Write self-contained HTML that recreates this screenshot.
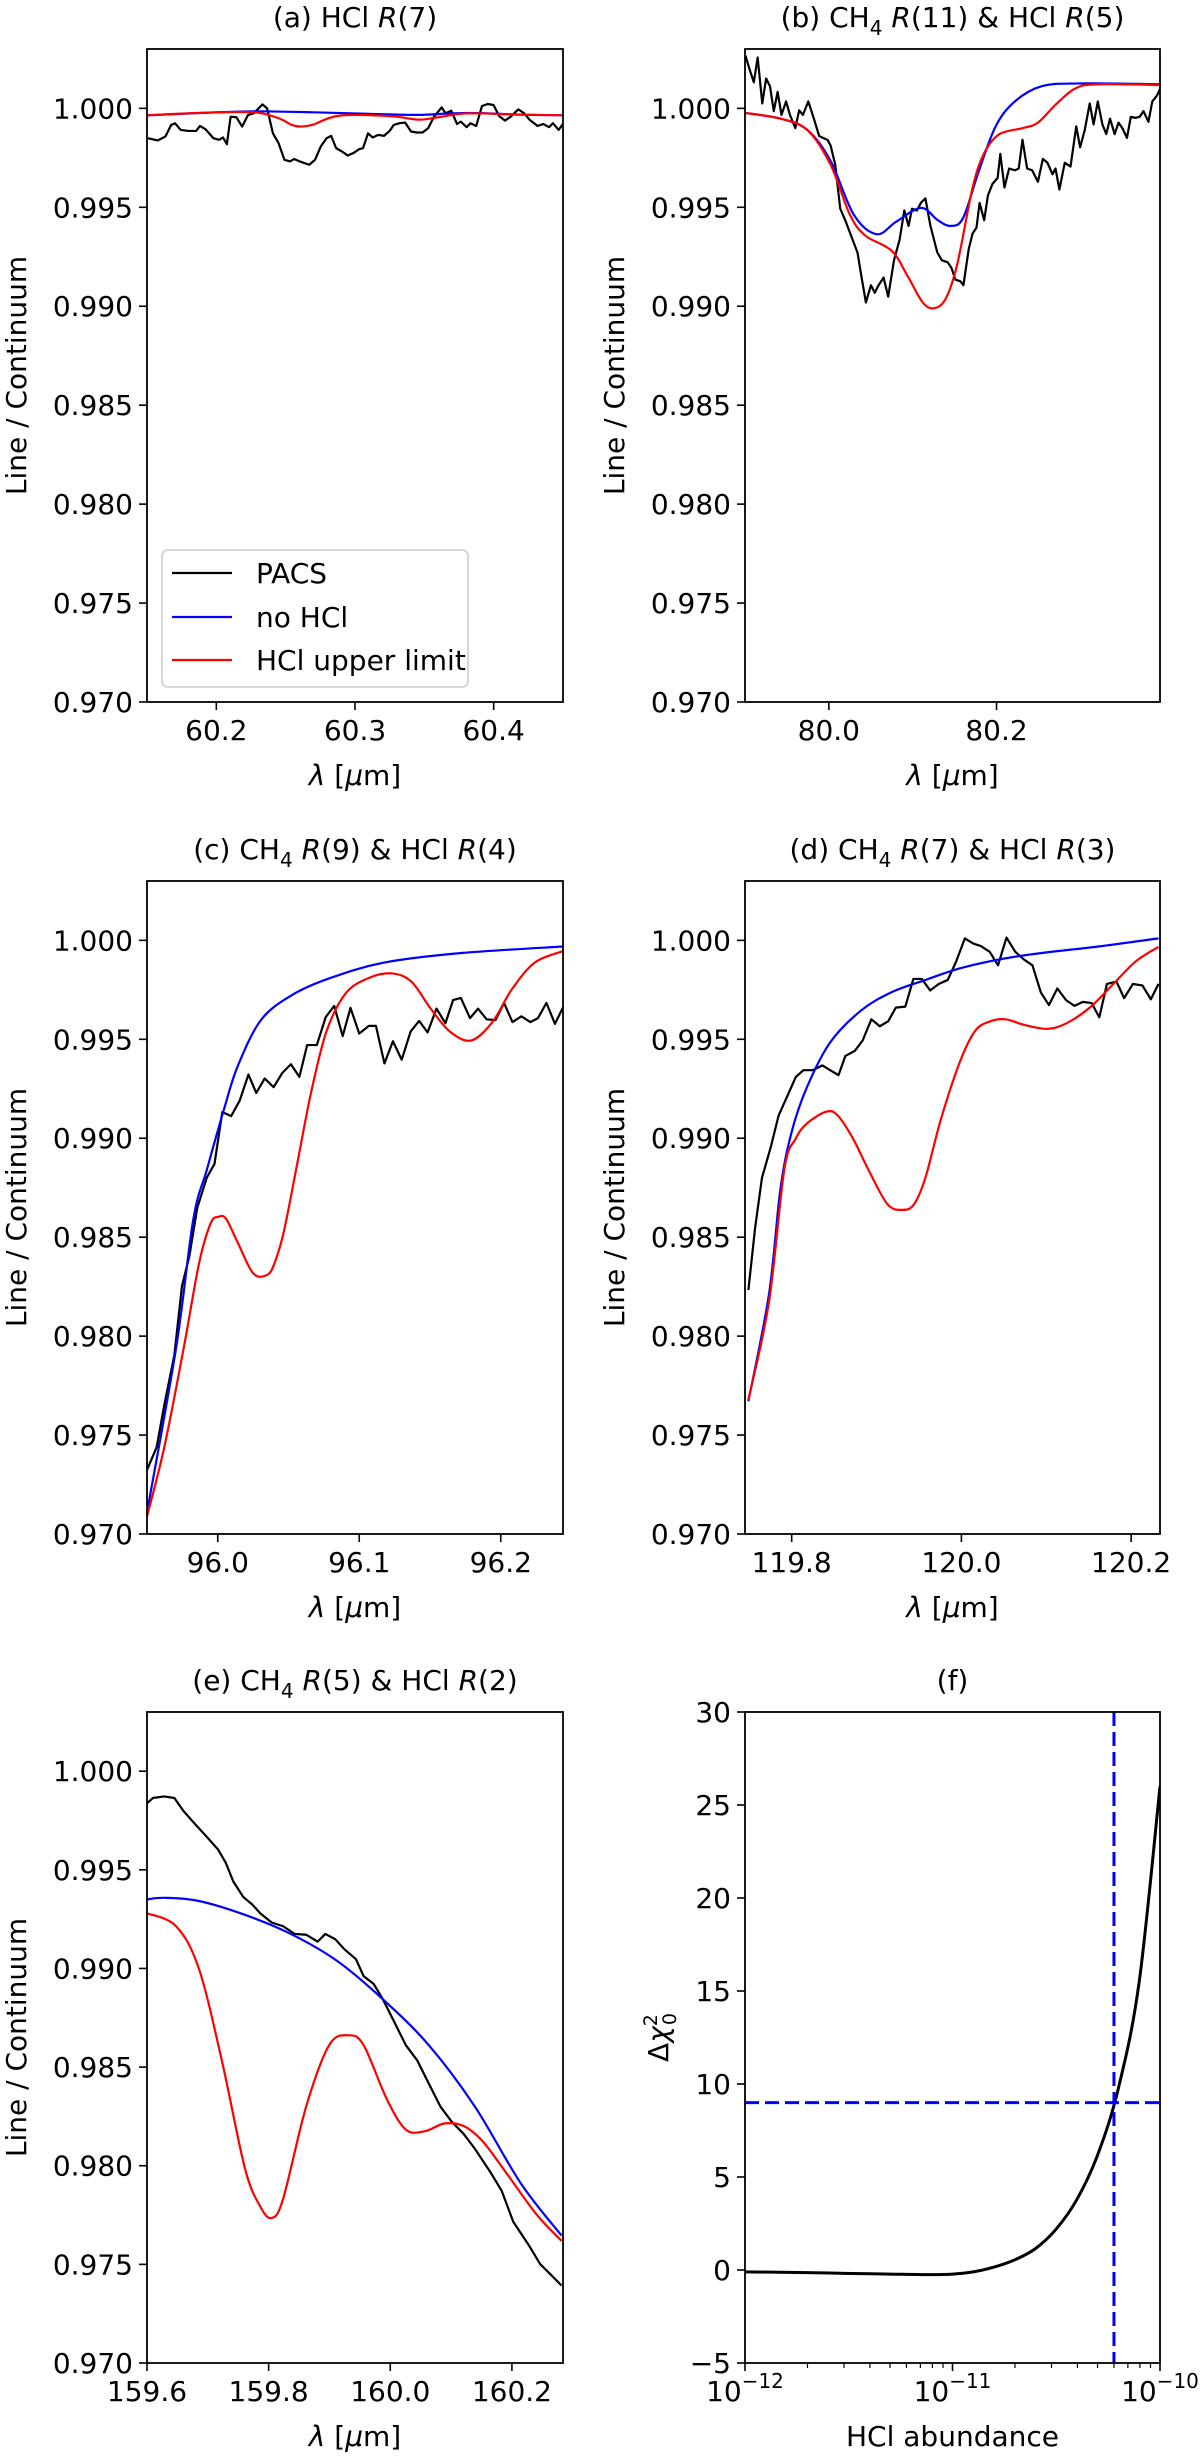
<!DOCTYPE html>
<html><head><meta charset="utf-8">
<style>
html,body{margin:0;padding:0;background:#fff;}
svg text{font-family:"DejaVu Sans","Liberation Sans",sans-serif;fill:#000;}
</style></head>
<body>
<svg id="fig" width="1200" height="2453" viewBox="0 0 1200 2453" xmlns="http://www.w3.org/2000/svg"></svg>
<script>
// ---------- data ----------
const yTicks = [0.970,0.975,0.980,0.985,0.990,0.995,1.000];
const yTickLabels = ["0.970","0.975","0.980","0.985","0.990","0.995","1.000"];

const aTicks=[60.2,60.3,60.4]; const aTickLabels=["60.2","60.3","60.4"];
const aPacsX=[60.1508,60.1577,60.1633,60.1674,60.1702,60.1743,60.1799,60.1854,60.1882,60.1923,60.1979,60.2020,60.2048,60.2076,60.2103,60.2145,60.2186,60.2228,60.2269,60.2333,60.2366,60.2408,60.2449,60.2491,60.2532,60.2560,60.2601,60.2670,60.2712,60.2753,60.2795,60.2828,60.2864,60.2906,60.2947,60.2989,60.3030,60.3058,60.3094,60.3127,60.3168,60.3210,60.3252,60.3279,60.3321,60.3362,60.3404,60.3445,60.3487,60.3528,60.3570,60.3625,60.3653,60.3694,60.3736,60.3763,60.3805,60.3833,60.3874,60.3916,60.3957,60.3999,60.4040,60.4082,60.4123,60.4178,60.4220,60.4261,60.4317,60.4358,60.4400,60.4427,60.4469,60.4499];
const aPacsY=[.99849,.99838,.99858,.99916,.99925,.99891,.99886,.99886,.99911,.99894,.99849,.99841,.99853,.99819,.99958,.99955,.99908,.99966,.99975,1.0002,1.0000,.99874,.99824,.9974,.99732,.99744,.99732,.99715,.9974,.99807,.99849,.99861,.99799,.99782,.99762,.99774,.99794,.99799,.99874,.99853,.99866,.99861,.99888,.99916,.99925,.99928,.99883,.99878,.99878,.999,.99958,1.00005,.99975,.99988,.99921,.99933,.99905,.99925,.99911,1.00012,1.00022,1.00017,.99961,.99938,.99958,.99995,.99975,.99941,.99911,.99921,.99905,.99925,.99891,.99921];
const aNoX=[60.15,60.2,60.23,60.27,60.31,60.345,60.37,60.39,60.42,60.45];
const aNoY=[.99965,.99980,.99985,.99980,.99972,.99967,.99975,.99976,.99968,.99965];
const aUpX=[60.15,60.18,60.21,60.23,60.245,60.255,60.2615,60.27,60.28,60.29,60.31,60.33,60.346,60.36,60.375,60.39,60.41,60.45];
const aUpY=[.99965,.99975,.99981,.99978,.99950,.99915,.99908,.99918,.99948,.99964,.99966,.99958,.99943,.99955,.99972,.99975,.99970,.99965];

const bTicks=[80.0,80.2]; const bTickLabels=["80.0","80.2"];
const bPacsX=[79.9005,79.906,79.9105,79.9151,79.9206,79.9252,79.9298,79.9343,79.9389,79.9435,79.949,79.9536,79.96,79.9646,79.9691,79.9755,79.9815,79.9884,79.993,79.9984,80.0021,80.0076,80.0136,80.0204,80.0273,80.0342,80.0387,80.0442,80.0502,80.0548,80.0593,80.0653,80.0708,80.0777,80.0845,80.09,80.0951,80.0992,80.1051,80.1097,80.1152,80.1212,80.1294,80.1349,80.1418,80.1463,80.1509,80.1569,80.1605,80.1669,80.1715,80.1761,80.1798,80.1853,80.1898,80.1953,80.2013,80.2045,80.2095,80.215,80.2219,80.2265,80.231,80.2365,80.2425,80.2494,80.2553,80.2608,80.2668,80.2704,80.275,80.2814,80.2883,80.2951,80.2997,80.3052,80.3112,80.3158,80.3208,80.3263,80.3309,80.3354,80.3409,80.3455,80.3501,80.3556,80.3602,80.3661,80.3707,80.3753,80.3812,80.3858,80.3913,80.3959];
const bPacsY=[1.00267,1.0019,1.00132,1.00257,1.00025,1.00151,1.00112,.99986,1.00083,.99967,1.00035,.99967,.9990,.9999,.99967,1.00035,.99957,.99861,.99851,.99841,.99812,.99716,.99493,.99426,.99348,.99271,.99155,.99019,.99106,.99068,.99106,.99145,.99048,.99232,.99338,.99484,.99406,.99493,.99484,.99522,.99545,.99406,.99271,.99232,.99222,.99193,.99135,.99126,.99106,.9929,.99368,.99397,.99522,.99435,.99561,.99619,.99648,.9977,.996,.99696,.99687,.99696,.99841,.99696,.99687,.99629,.99745,.99725,.99667,.99696,.9959,.99725,.99706,.99909,.99803,.9989,1.00025,.99919,1.00035,.99919,.9987,.99948,.9987,.99928,.999,.99851,.99957,.99952,.99957,.99986,.99932,1.00035,1.00064,1.00106];
const bNoX=[79.9,79.9426,79.9746,80.002,80.0296,80.057,80.08,80.1097,80.13,80.145,80.16,80.1784,80.199,80.2219,80.254,80.30,80.396];
const bNoY=[.99977,.99948,.9989,.99735,.99464,.99364,.99426,.99497,.99435,.99406,.99445,.99677,.99909,1.00035,1.00112,1.00126,1.00122];
const bUpX=[79.9,79.9426,79.9746,80.002,80.025,80.0433,80.075,80.0937,80.112,80.1257,80.1395,80.1532,80.1715,80.1853,80.2036,80.231,80.2494,80.272,80.2951,80.3226,80.396];
const bUpY=[.99977,.99948,.9989,.99716,.99464,.99358,.9928,.99155,.99019,.9899,.99039,.99213,.996,.99774,.9987,.999,.99928,1.00025,1.00103,1.00122,1.00118];

const cTicks=[96.0,96.1,96.2]; const cTickLabels=["96.0","96.1","96.2"];
const cPacsX=[95.9487,95.9568,95.9622,95.9693,95.9747,95.98,95.9855,95.9923,95.9977,96.0032,96.0095,96.0155,96.0217,96.0272,96.0332,96.0395,96.0455,96.0517,96.0577,96.0632,96.07,96.0763,96.0823,96.0883,96.0938,96.1,96.1068,96.1118,96.1178,96.1238,96.13,96.1363,96.1423,96.1483,96.1546,96.1609,96.1663,96.1718,96.1783,96.184,96.19,96.1963,96.2023,96.2083,96.2146,96.2209,96.2263,96.2323,96.2383,96.2443];
const cPacsY=[.97302,.97438,.97651,.97903,.98252,.98407,.98647,.98802,.9887,.99132,.99112,.9919,.99322,.99229,.99302,.99258,.99329,.99374,.9931,.99471,.99471,.99612,.99669,.99516,.99659,.99529,.99568,.99568,.99378,.9949,.99397,.99539,.99593,.99535,.99655,.99581,.99698,.99709,.99607,.99655,.99601,.99597,.99684,.99587,.99616,.99587,.99607,.99684,.99578,.99665];
const cNoX=[95.95,95.9706,95.9827,95.9923,96.0046,96.0141,96.0305,96.0523,96.0796,96.1178,96.1723,96.2443];
const cNoY=[.97109,.97942,.98589,.98841,.99151,.99364,.99597,.99723,.9981,.99888,.99936,.99969];
const cUpX=[95.95,95.9622,95.976,95.9868,95.995,96.0005,96.0059,96.0141,96.025,96.0346,96.04,96.0468,96.0564,96.0659,96.0768,96.0905,96.1068,96.1232,96.1369,96.1505,96.1641,96.1791,96.1941,96.2078,96.2241,96.2443];
const cUpY=[.97089,.97438,.97942,.98368,.9857,.98603,.98593,.98473,.98318,.98308,.98366,.98531,.9888,.99229,.99539,.99733,.9981,.99833,.99791,.99655,.99539,.99494,.99587,.99752,.99888,.99946];

const dTicks=[119.8,120.0,120.2]; const dTickLabels=["119.8","120.0","120.2"];
const dPacsX=[119.749,119.757,119.765,119.7756,119.7846,119.7958,119.8048,119.8138,119.825,119.8363,119.8453,119.8552,119.8633,119.8745,119.8836,119.8939,119.9038,119.9137,119.9227,119.9339,119.9434,119.9533,119.9632,119.9735,119.9839,119.9938,120.0041,120.014,120.023,120.0333,120.0432,120.0531,120.0635,120.0738,120.0837,120.0936,120.1031,120.113,120.1233,120.1332,120.1431,120.1535,120.1625,120.1715,120.1827,120.1917,120.2021,120.2133,120.2232,120.2322];
const dPacsY=[.98233,.9855,.9880,.98959,.99115,.99222,.99309,.99344,.99344,.99368,.99344,.99319,.99416,.99442,.99494,.99601,.99566,.99591,.9966,.99665,.99805,.99805,.99747,.9978,.998,.99893,1.0001,.99984,.99971,.99942,.99874,1.00014,.99942,.99903,.99874,.99737,.99673,.99757,.99698,.99669,.99689,.99683,.99611,.9978,.99792,.99708,.9978,.99772,.99702,.9978];
const dNoX=[119.749,119.7733,119.7868,119.8003,119.8183,119.8453,119.8813,119.9173,119.9578,120.0028,120.0702,120.1652,120.2322];
const dNoY=[.97671,.98213,.98745,.99037,.99261,.99484,.99644,.99737,.998,.99864,.99922,.99971,1.0001];
const dUpX=[119.749,119.7733,119.7913,119.8048,119.8183,119.8408,119.8543,119.8723,119.8903,119.9128,119.9308,119.9443,119.9578,119.9758,119.9983,120.0163,120.0342,120.0522,120.0747,120.1017,120.1242,120.1512,120.1782,120.2052,120.2322];
const dUpY=[.97678,.98174,.98842,.98998,.99076,.99134,.99115,.98998,.98842,.98667,.98638,.98667,.98804,.99095,.99387,.99543,.99591,.99601,.99572,.99553,.99582,.9966,.99776,.99893,.99967];

const eTicks=[159.6,159.8,160.0,160.2]; const eTickLabels=["159.6","159.8","160.0","160.2"];
const ePacsX=[159.6,159.6096,159.6285,159.645,159.66,159.679,159.6978,159.7168,159.7293,159.742,159.7584,159.7735,159.7861,159.805,159.8239,159.8428,159.8617,159.8806,159.8932,159.9096,159.9247,159.9436,159.9562,159.9726,159.9878,160.0067,160.0256,160.0445,160.0634,160.0824,160.1013,160.1202,160.1391,160.1643,160.1833,160.2022,160.2274,160.2463,160.2652,160.2816];
const ePacsY=[.99837,.99864,.99872,.99864,.99798,.99732,.99669,.99603,.99537,.9944,.99362,.99323,.9928,.99233,.99214,.99175,.99171,.99136,.99175,.99148,.99097,.99047,.98961,.98922,.98844,.98728,.98611,.98533,.98416,.983,.98222,.98163,.98086,.97969,.97872,.97716,.97599,.97502,.97444,.97393];
const eNoX=[159.6,159.6285,159.6852,159.7609,159.8365,159.9122,159.9878,160.0634,160.1391,160.2148,160.2816];
const eNoY=[.9935,.99358,.99342,.99272,.99175,.99039,.98844,.98611,.983,.9791,.97646];
const eUpX=[159.6,159.6478,159.6852,159.7231,159.7609,159.7861,159.805,159.8239,159.8617,159.8995,159.9311,159.9562,159.9941,160.0256,160.0571,160.0887,160.1202,160.1517,160.1895,160.24,160.2816];
const eUpY=[.9928,.99214,.99,.98533,.97988,.97794,.97735,.97833,.983,.98611,.98661,.98611,.98339,.98183,.98175,.98214,.98202,.98125,.97969,.97755,.97619];

const fAbund=[1e-12,2e-12,3e-12,5e-12,8e-12,1e-11,1.26e-11,1.58e-11,2e-11,2.51e-11,3.16e-11,3.98e-11,5.01e-11,6.31e-11,7.94e-11,1e-10];
const fChi=[-0.1,-0.14,-0.18,-0.22,-0.25,-0.22,-0.1,0.15,0.55,1.15,2.2,3.8,6.2,9.8,15.5,26];
const fYTicks=[-5,0,5,10,15,20,25,30];
const fYTickLabels=["\u22125","0","5","10","15","20","25","30"];
const fXTicks=[1e-12,1e-11,1e-10];
const fXTickExp=["\u221212","\u221211","\u221210"];
const fLimitChi=9;
const fLimitAbund=6.0e-11;

// ---------- drawing ----------
const NS="http://www.w3.org/2000/svg";
const svg=document.getElementById('fig');
function mk(tag,attrs,parent){const e=document.createElementNS(NS,tag);for(const k in attrs)e.setAttribute(k,attrs[k]);(parent||svg).appendChild(e);return e;}
function smoothPath(pts){
  if(pts.length<2)return '';
  let d='M'+pts[0][0].toFixed(2)+','+pts[0][1].toFixed(2);
  for(let i=0;i<pts.length-1;i++){
    const p0=pts[i-1]||pts[i],p1=pts[i],p2=pts[i+1],p3=pts[i+2]||p2;
    const c1x=p1[0]+(p2[0]-p0[0])/6,c1y=p1[1]+(p2[1]-p0[1])/6;
    const c2x=p2[0]-(p3[0]-p1[0])/6,c2y=p2[1]-(p3[1]-p1[1])/6;
    d+=' C'+c1x.toFixed(2)+','+c1y.toFixed(2)+' '+c2x.toFixed(2)+','+c2y.toFixed(2)+' '+p2[0].toFixed(2)+','+p2[1].toFixed(2);
  }
  return d;
}
function linePath(pts){return pts.map((p,i)=>(i?'L':'M')+p[0].toFixed(2)+','+p[1].toFixed(2)).join(' ');}

const FS=28;
let clipId=0;
function panel(o){
  const g=mk('g',{});
  
  
  const L=o.L,R=o.R,T=o.T,B=o.B;
  const xs=v=>o.xlog?L+(Math.log10(v)-Math.log10(o.x0))/(Math.log10(o.x1)-Math.log10(o.x0))*(R-L):L+(v-o.x0)/(o.x1-o.x0)*(R-L);
  const ys=v=>B-(v-o.y0)/(o.y1-o.y0)*(B-T);
  const cid='clip'+(clipId++);
  const cp=mk('clipPath',{id:cid},g);
  mk('rect',{x:L,y:T,width:R-L,height:B-T},cp);
  const plot=mk('g',{'clip-path':'url(#'+cid+')'},g);
  
  
  (o.series||[]).forEach(s=>{
    const pts=s.x.map((v,i)=>[xs(v),ys(s.y[i])]);
    const p=mk('path',{d:s.smooth?smoothPath(pts):linePath(pts),fill:'none',stroke:s.color,'stroke-width':s.w||2.2,'stroke-linejoin':'round','stroke-dasharray':s.dash||'none'},plot);
    
    
  });
  if(o.extra)o.extra(plot,xs,ys);
  const fr=mk('rect',{x:L,y:T,width:R-L,height:B-T,fill:'none',stroke:'#000','stroke-width':1.8},g);
  
  
  o.yt.forEach((v,i)=>{
    const y=ys(v);
    const t=mk('line',{x1:L-8,x2:L,y1:y,y2:y,stroke:'#000','stroke-width':1.6},g);
    
    
    const tx=mk('text',{x:L-14,y:y+10,'text-anchor':'end','font-size':FS},g);
    tx.textContent=o.ytl[i];
    
    
  });
  o.xt.forEach((v,i)=>{
    const x=xs(v);
    const t=mk('line',{x1:x,x2:x,y1:B,y2:B+8,stroke:'#000','stroke-width':1.6},g);
    
    
    const tx=mk('text',{x:x,y:B+38,'text-anchor':'middle','font-size':FS},g);
    
    
    if(o.xexp){tx.textContent='10';const sp=mk('tspan',{'font-size':20,dy:-13},tx);sp.textContent=o.xexp[i];}
    else tx.textContent=o.xtl[i];
  });
  if(o.minor)o.minor.forEach(v=>{
    const x=xs(v);
    const t=mk('line',{x1:x,x2:x,y1:B,y2:B+5,stroke:'#000','stroke-width':1.2},g);
    
    
  });
  const ti=mk('text',{x:(L+R)/2,y:T-22,'text-anchor':'middle','font-size':FS},g);
  ti.innerHTML=o.title;
  
  
  const xl=mk('text',{x:(L+R)/2,y:B+83,'text-anchor':'middle','font-size':FS},g);
  xl.innerHTML=o.xlabel;
  
  
  const yl=mk('text',{x:0,y:0,'text-anchor':'middle','font-size':FS,transform:'translate('+o.ylx+','+((T+B)/2)+') rotate(-90)'},g);
  yl.innerHTML=o.ylabel;
  
  
  return g;
}
const LAM='<tspan font-style="italic">λ</tspan> [<tspan font-style="italic">μ</tspan>m]';
const YL='Line / Continuum';
function spec(x,y,c,name,smooth){return {x:x,y:y,color:c,name:name,smooth:smooth,w:2.2};}
const C1={L:147,R:563},C2={L:745,R:1160};
const R1={T:49,B:702},R2={T:881,B:1534},R3={T:1712,B:2363};
const sub='<tspan font-size="20" dy="8">4</tspan><tspan dy="-8"> </tspan>';

panel(Object.assign({name:'panel-a',x0:60.15,x1:60.45,y0:0.970,y1:1.003,xt:aTicks,xtl:aTickLabels,yt:yTicks,ytl:yTickLabels,
 title:'(a) HCl <tspan font-style="italic">R</tspan>(7)',xlabel:LAM,ylabel:YL,ylx:26,
 series:[spec(aPacsX,aPacsY,'#000','pacs-line',false),spec(aNoX,aNoY,'#0000ff','no-hcl-line',true),spec(aUpX,aUpY,'#ff0000','hcl-upper-limit-line',true)]},C1,R1));
panel(Object.assign({name:'panel-b',x0:79.9,x1:80.395,y0:0.970,y1:1.003,xt:bTicks,xtl:bTickLabels,yt:yTicks,ytl:yTickLabels,
 title:'(b) CH'+sub+'<tspan font-style="italic">R</tspan>(11) &amp; HCl <tspan font-style="italic">R</tspan>(5)',xlabel:LAM,ylabel:YL,ylx:624,
 series:[spec(bPacsX,bPacsY,'#000','pacs-line',false),spec(bNoX,bNoY,'#0000ff','no-hcl-line',true),spec(bUpX,bUpY,'#ff0000','hcl-upper-limit-line',true)]},C2,R1));
panel(Object.assign({name:'panel-c',x0:95.95,x1:96.244,y0:0.970,y1:1.003,xt:cTicks,xtl:cTickLabels,yt:yTicks,ytl:yTickLabels,
 title:'(c) CH'+sub+'<tspan font-style="italic">R</tspan>(9) &amp; HCl <tspan font-style="italic">R</tspan>(4)',xlabel:LAM,ylabel:YL,ylx:26,
 series:[spec(cPacsX,cPacsY,'#000','pacs-line',false),spec(cNoX,cNoY,'#0000ff','no-hcl-line',true),spec(cUpX,cUpY,'#ff0000','hcl-upper-limit-line',true)]},C1,R2));
panel(Object.assign({name:'panel-d',x0:119.745,x1:120.234,y0:0.970,y1:1.003,xt:dTicks,xtl:dTickLabels,yt:yTicks,ytl:yTickLabels,
 title:'(d) CH'+sub+'<tspan font-style="italic">R</tspan>(7) &amp; HCl <tspan font-style="italic">R</tspan>(3)',xlabel:LAM,ylabel:YL,ylx:624,
 series:[spec(dPacsX,dPacsY,'#000','pacs-line',false),spec(dNoX,dNoY,'#0000ff','no-hcl-line',true),spec(dUpX,dUpY,'#ff0000','hcl-upper-limit-line',true)]},C2,R2));
panel(Object.assign({name:'panel-e',x0:159.6,x1:160.284,y0:0.970,y1:1.003,xt:eTicks,xtl:eTickLabels,yt:yTicks,ytl:yTickLabels,
 title:'(e) CH'+sub+'<tspan font-style="italic">R</tspan>(5) &amp; HCl <tspan font-style="italic">R</tspan>(2)',xlabel:LAM,ylabel:YL,ylx:26,
 series:[spec(ePacsX,ePacsY,'#000','pacs-line',false),spec(eNoX,eNoY,'#0000ff','no-hcl-line',true),spec(eUpX,eUpY,'#ff0000','hcl-upper-limit-line',true)]},C1,R3));
const minorF=[];
[1e-12,1e-11].forEach(d=>{for(let k=2;k<=9;k++)minorF.push(d*k);});
panel(Object.assign({name:'panel-f',xlog:true,x0:1e-12,x1:1e-10,y0:-5,y1:30,xt:fXTicks,xexp:fXTickExp,minor:minorF,yt:fYTicks,ytl:fYTickLabels,
 title:'(f)',xlabel:'HCl abundance',ylabel:'Δ<tspan font-style="italic">χ</tspan><tspan font-size="19" dy="-11">2</tspan><tspan font-size="19" dx="-11" dy="19">0</tspan>',ylx:668,
 series:[{x:fAbund,y:fChi,color:'#000',name:'delta-chi2-curve',smooth:true,w:3}],
 extra:function(plot,xs,ys){
   const h=mk('line',{x1:xs(1e-12),x2:xs(1e-10),y1:ys(fLimitChi),y2:ys(fLimitChi),stroke:'#0000ff','stroke-width':3,'stroke-dasharray':'14,6'},plot);
   
   
   const v=mk('line',{x1:xs(fLimitAbund),x2:xs(fLimitAbund),y1:ys(30),y2:ys(-5),stroke:'#0000ff','stroke-width':3,'stroke-dasharray':'14,6'},plot);
   
   
 }},C2,R3));

const lg=mk('g',{});


const lb=mk('rect',{x:162,y:550,width:306,height:137,rx:6,fill:'#fff','fill-opacity':0.85,stroke:'#cccccc','stroke-width':1.5},lg);


const legendLabels=['PACS','no HCl','HCl upper limit'];
const legendColors=['#000','#0000ff','#ff0000'];
const legendYs=[573,617,660];
legendLabels.forEach((lab,i)=>{
  const l=mk('line',{x1:172,x2:232,y1:legendYs[i],y2:legendYs[i],stroke:legendColors[i],'stroke-width':2.2},lg);
  
  
  const t=mk('text',{x:256,y:legendYs[i]+10,'font-size':FS},lg);
  t.textContent=lab;
  
  
});
</script>
</body></html>
